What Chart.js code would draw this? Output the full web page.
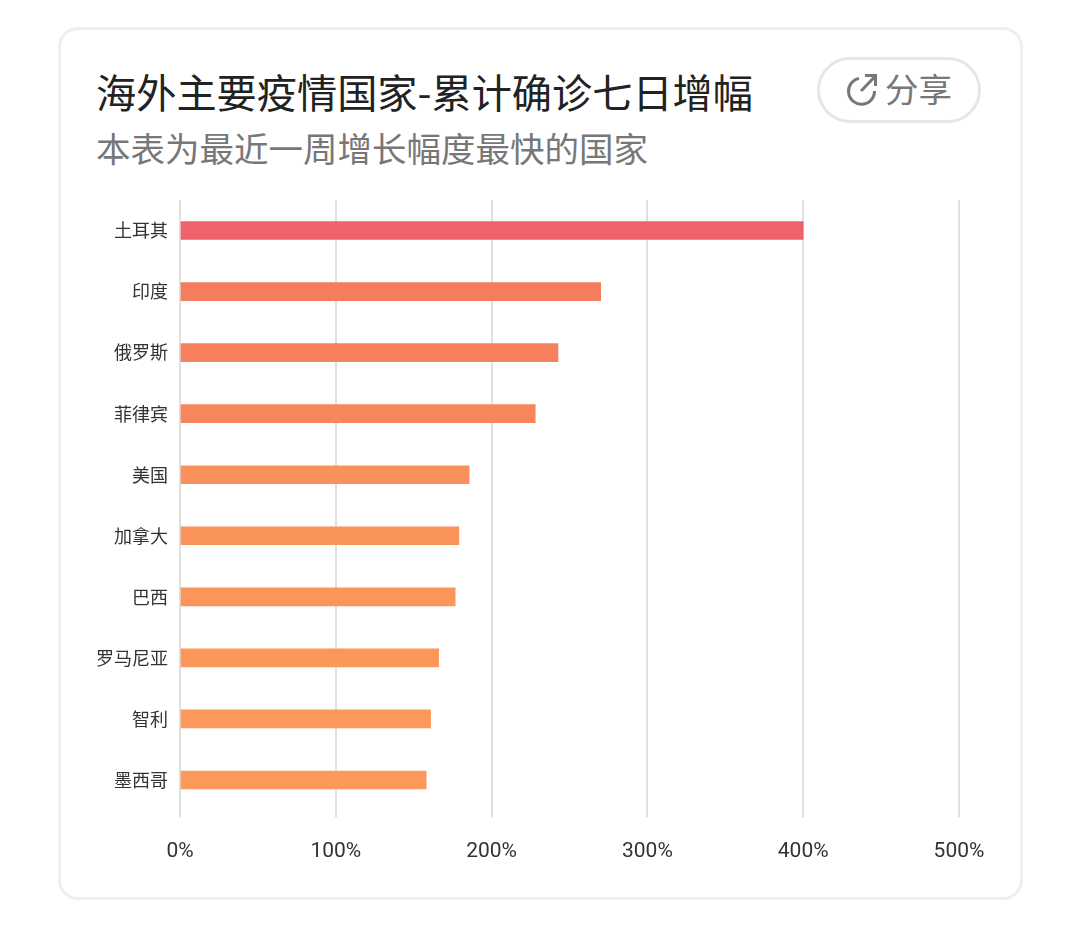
<!DOCTYPE html>
<html lang="zh">
<head>
<meta charset="utf-8">
<script src="https://cdn.jsdelivr.net/npm/chart.js@4"></script>
<style>
html,body{margin:0;padding:0;background:#fff;width:1080px;height:932px;overflow:hidden;font-family:"Noto Sans CJK SC",sans-serif}
#card{position:absolute;left:58px;top:27px;width:959px;height:867px;border:3px solid #efefef;border-radius:20px}
#chart{position:absolute;left:0;top:0}
.t{position:absolute;white-space:nowrap;line-height:1}
#title{left:96px;top:71px;font-size:40.2px;color:#222}
#sub{left:96px;top:130px;font-size:34.5px;color:#777}
#btn{position:absolute;left:817px;top:57px;width:158px;height:60px;border:3px solid #e6e6e6;border-radius:33px}
#btnt{left:885px;top:71px;font-size:33.5px;color:#777}
#ico{position:absolute;left:845px;top:72px}
</style>
</head>
<body>
<div id="card"></div>
<div id="title" class="t">海外主要疫情国家-累计确诊七日增幅</div>
<div id="sub" class="t">本表为最近一周增长幅度最快的国家</div>
<div id="btn"></div>
<svg id="ico" width="34" height="36" viewBox="0 0 34 36" fill="none" stroke="#777" stroke-width="3">
<path d="M14 6.5 A13 13 0 1 0 29.5 19"/><path d="M16 19 L30 4.5"/><path d="M20 3.5 H30.5 V14"/>
</svg>
<div id="btnt" class="t">分享</div>
<canvas id="chart" width="1080" height="932"></canvas>
<script>
const categories = ["土耳其","印度","俄罗斯","菲律宾","美国","加拿大","巴西","罗马尼亚","智利","墨西哥"];
const values = [400,270,242.6,228,185.6,179,176.6,166,160.8,158];
const barColors = ["#F0626A","#F67C5E","#F7815D","#F8865C","#FA915A","#FB945A","#FB955A","#FC975A","#FC985A","#FC985A"];
const xTicks = [0,100,200,300,400,500];

new Chart(document.getElementById("chart"), {
  type: "bar",
  data: { labels: categories, datasets: [{ data: values, backgroundColor: barColors, barThickness: 18, borderWidth: 0 }] },
  options: {
    indexAxis: "y",
    responsive: false,
    animation: false,
    devicePixelRatio: 1,
    layout: { padding: { left: 0, top: 200, right: 121, bottom: 0 } },
    plugins: { legend: { display: false }, tooltip: { enabled: false } },
    scales: {
      x: {
        min: 0, max: 500,
        afterBuildTicks: a => { a.ticks = xTicks.map(v => ({ value: v })); },
        afterFit: s => { s.height = 121.5; },
        grid: { color: "#e0e0e0", lineWidth: 2, drawTicks: true, tickLength: 7 },
        border: { display: false },
        ticks: { padding: 22, color: "#333", font: { family: "Roboto", size: 21 }, maxRotation: 0, callback: v => v + "%" }
      },
      y: {
        afterFit: s => { s.width = 180; },
        grid: { display: false, drawTicks: false },
        border: { display: false },
        ticks: { padding: 12, color: "#333", font: { family: "'Noto Sans CJK SC'", size: 18 } }
      }
    }
  }
});
</script>
</body>
</html>
